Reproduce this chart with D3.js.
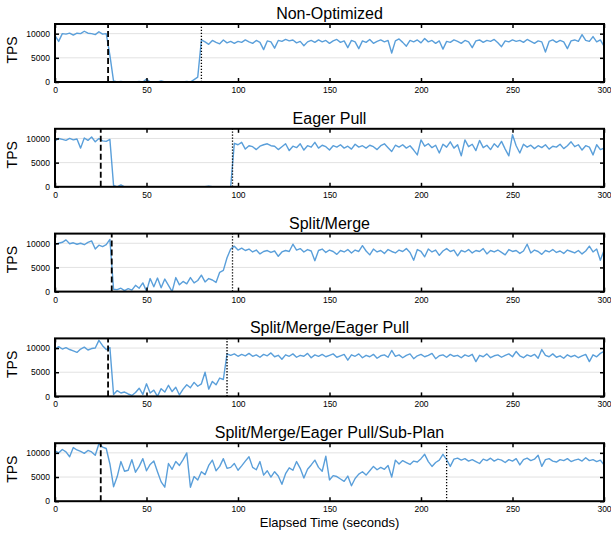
<!DOCTYPE html>
<html>
<head>
<meta charset="utf-8">
<script src="https://cdn.jsdelivr.net/npm/d3@7"></script>
<style>
  body { margin: 0; background: #fff; }
  svg { font-family: "Liberation Sans", Arial, sans-serif; }
</style>
</head>
<body>
<div id="chart"></div>
<script>
// One sample every two seconds, 0..300 s
const seconds = d3.range(0, 301, 2);

const titles = ['Non-Optimized', 'Eager Pull', 'Split/Merge', 'Split/Merge/Eager Pull',
  'Split/Merge/Eager Pull/Sub-Plan'];

const nonOptimized = [
  9600, 8400, 10000, 9900, 10100, 9700, 10100, 10000, 10500, 10100,
  10000, 9800, 10400, 9900, 10000, 5500, 200, 0, 100, 0,
  50, 0, 0, 100, 0, 600, 0, 0, 0, 200,
  0, 0, 0, 50, 0, 0, 100, 0, 500, 1000,
  8700, 8300, 7800, 8600, 8200, 7900, 8700, 8100, 8400, 8000,
  8400, 8200, 8700, 8300, 8000, 8600, 8200, 6700, 8500, 8300,
  7000, 8600, 8400, 8800, 8500, 8700, 8100, 8400, 7500, 8300,
  8600, 8200, 8700, 8300, 8600, 8000, 8500, 8800, 8200, 8500,
  7100, 8600, 8300, 6900, 8500, 8200, 8800, 8000, 8400, 8700,
  8300, 8600, 6000, 8500, 8900, 8200, 7400, 8600, 8300, 8700,
  8100, 9000, 8300, 8600, 8000, 8500, 6800, 8400, 8200, 8700,
  8400, 8000, 8600, 8300, 7100, 8500, 8700, 8200, 8600, 8400,
  8800, 8100, 7300, 8500, 8300, 8700, 8400, 8600, 8200, 8800,
  8400, 8000, 8500, 8300, 6200, 8400, 8700, 8200, 8600, 8300,
  6900, 8500, 8700, 8400, 9800, 8600, 8400, 9400, 8300, 8700,
  7400
];

const eagerPull = [
  9500, 10000, 9800, 9600, 10000, 9700, 9900, 8000, 10100, 9600,
  10300, 9300, 10000, 9500, 9400, 9800, 300, 0, 400, 0,
  0, 0, 0, 0, 0, 0, 0, 0, 0, 0,
  0, 0, 0, 0, 0, 0, 0, 0, 0, 0,
  0, 0, 150, 0, 0, 0, 0, 0, 0, 9000,
  8700, 9200, 7800, 8500, 8300, 7700, 8400, 8700, 8900, 8500,
  8400, 7700, 8300, 8900, 7500, 8400, 8100, 8900, 7600, 8500,
  8200, 9200, 8000, 8600, 8300, 7600, 8500, 8200, 8700, 8000,
  8400, 7800, 8800, 8200, 8500, 8000, 8600, 8300, 7700, 8500,
  8900, 8100, 7300, 8600, 8200, 8700, 8000, 8500, 7600, 6600,
  9700, 8400, 8900, 8100, 8600, 7000, 8800, 8200, 9300, 8000,
  8700, 6400, 9700, 8300, 8800, 7500, 9600, 8100, 8600, 7700,
  8900, 8200, 9400, 7800, 6400, 10800, 8500, 7000, 8800, 8200,
  8600, 7900, 8500, 8100, 8700, 7800, 8400, 8200, 8800, 7900,
  8500, 9300, 8300, 8700, 7600, 8500, 8200, 6600, 8700, 7700,
  8000
];

const splitMerge = [
  9700, 10000, 10200, 10700, 9900, 10100, 9800, 10000, 9700, 10200,
  10500, 8800, 9600, 9300, 9700, 10800, 500, 400, 700, 200,
  600, 300, 1300, 700, 1800, 100, 2700, 1000, 2800, 800,
  2600, 1300, 0, 2900, 1400, 2100, 1600, 2900, 1800, 2300,
  3400, 2000, 2700, 2400, 1900, 4000, 4400, 7000, 8800, 9400,
  8600, 9000, 8500, 8800, 8200, 8600, 7800, 8300, 8500, 8100,
  8400, 7300, 8200, 8500, 8300, 9800, 8600, 8900, 8200, 8700,
  8400, 6400, 8500, 8800, 8100, 8600, 8300, 7700, 8500, 8200,
  8700, 8000, 8600, 8300, 9500, 8400, 7600, 8800, 8200, 8500,
  7900, 8700, 8300, 8000, 8600, 8300, 8900, 8100, 6500, 8700,
  8300, 7200, 8800, 8200, 8600, 7500, 8400, 8900, 8300, 8600,
  7400, 8500, 8200, 8700, 8000, 8500, 8300, 8900, 7800, 8500,
  8200, 8600, 8100, 7600, 8700, 8300, 8500, 7900, 8400, 9800,
  8000, 8600, 8300, 7700, 8500, 8200, 8700, 8100, 8400, 7900,
  8600, 8300, 8000, 8500, 7800, 8400, 9400, 8200, 8800, 6500,
  8500
];

const splitMergeEager = [
  9700, 10300, 9800, 10100, 9700, 9400, 9100, 9800, 10200, 9600,
  9900, 10000, 11600, 10500, 9700, 10100, 400, 1200, 700, 900,
  500, 200, 800, 1700, 400, 2600, 700, 1300, 0, 1600,
  900, 2300, 1000, 1900, 300, 1500, 2400, 1800, 2900, 2100,
  2600, 5000, 1500, 3100, 2400, 3800, 3500, 8800, 8500, 8800,
  8300, 8700, 8400, 8900, 8300, 8600, 8100, 8700, 8400, 9000,
  8200, 8500, 7700, 8600, 8300, 8800, 8100, 8500, 8300, 8900,
  8000, 8600, 8300, 8700, 8200, 8500, 8800, 8100, 8400, 8700,
  7500, 8600, 8300, 8800, 8000, 8500, 8200, 8700, 7900, 8400,
  8600, 8100, 9500, 8300, 8600, 8000, 8500, 8800, 7800, 8400,
  8700, 8200, 8500, 8900, 7800, 8400, 8600, 8100, 8700, 8300,
  8500, 8000, 8600, 8300, 8700, 7200, 8500, 8200, 8800, 8000,
  8400, 8600, 8100, 8500, 8800, 8200, 9300, 8400, 8000, 8600,
  8300, 8700, 7900, 9700, 8500, 8200, 8800, 8100, 8400, 7900,
  8600, 8200, 8500, 8000, 8400, 8700, 7200, 8600, 8200, 8900,
  9300
];

const subPlan = [
  10400, 10000, 10700, 10200, 9200, 11100, 10600, 10300, 9900, 10500,
  10200, 9500, 11900, 11200, 10900, 7700, 3000, 5100, 8200, 6200,
  6400, 8600, 6000, 7200, 8800, 6300, 7600, 8300, 6100, 4000,
  2900, 7800, 6600, 8200, 7400, 8600, 10000, 2900, 5100, 4400,
  6100, 5500, 7400, 8500, 6300, 7200, 8800, 6800, 7000, 7800,
  6400, 7300, 8300, 9200, 7000, 6500, 8200, 5400, 6300, 5000,
  6100, 5200, 3500, 5700, 6900, 6400, 8200, 6800, 4800, 6600,
  7500, 8500, 7000, 6200, 9300, 4400, 5300, 5100, 4600, 4100,
  5200, 3200, 4700, 5600, 6100, 5400, 6300, 7200, 6500, 7000,
  6600, 7400, 5000, 8500, 7700, 8400, 8000, 7600, 8300, 8100,
  8800, 9700, 8200, 7200, 8000, 8500, 9700, 8600, 7200, 8700,
  8900, 8500, 8800, 8300, 8600, 8200, 7800, 8700, 8400, 8900,
  8300, 8700, 8500, 8000, 8600, 8300, 8800, 7500, 8600, 8900,
  8400, 8700, 9500, 7200, 8600, 8800, 8300, 8100, 8600, 8400,
  8800, 8200, 8500, 8700, 8300, 9000, 8400, 8600, 8200, 8500,
  7500
];

// dashed = failure injected, dotted = throughput recovered (seconds)
const failTimes = [29, 25, 31, 29, 25];
const recoverTimes = [80, 97, 97, 94, 214];

const xTicks = [0, 50, 100, 150, 200, 250, 300];
const yTicks = [0, 5000, 10000];
const yGrid = [5000, 10000];

const seriesList = [nonOptimized, eagerPull, splitMerge, splitMergeEager, subPlan];

let width = 611;
let height = 533;
let left = 55;
let right = 604;
let firstTop = 24;
let panelGap = 104.8;
let panelHeight = 58;
let lineColor = '#5a9fda';

let svg = d3.select('#chart')
.append('svg')
.attr('width', width)
.attr('height', height);

let x = d3.scaleLinear()
.domain([0, 300])
.range([left, right]);

// Draw one TPS panel: title, grid, series, markers, frame and axes
function drawPanel(i) {
  let top = firstTop + i * panelGap;
  let bottom = top + panelHeight;
  let y = d3.scaleLinear()
  .domain([0, 12000])
  .range([bottom, top]);

  let g = svg.append('g').attr('class', 'panel');

  g.append('text')
  .attr('x', (left + right) / 2)
  .attr('y', top - 5)
  .attr('text-anchor', 'middle')
  .style('font-size', '16px')
  .text(titles[i]);

  g.append('text')
  .attr('transform', 'translate(17,' + ((top + bottom) / 2 - 3) + ') rotate(-90)')
  .attr('text-anchor', 'middle')
  .style('font-size', '14px')
  .text('TPS');

  g.selectAll('line.grid')
  .data(yGrid)
  .join('line')
  .attr('class', 'grid')
  .attr('x1', left)
  .attr('x2', right)
  .attr('y1', d => y(d))
  .attr('y2', d => y(d))
  .attr('stroke', '#e2e2e2')
  .attr('stroke-width', 1);

  g.append('clipPath')
  .attr('id', 'clip' + i)
  .append('rect')
  .attr('x', left)
  .attr('y', top)
  .attr('width', right - left)
  .attr('height', panelHeight);

  let line = d3.line()
  .x((d, k) => x(seconds[k]))
  .y(d => y(d));

  g.append('path')
  .datum(seriesList[i])
  .attr('clip-path', 'url(#clip' + i + ')')
  .attr('fill', 'none')
  .attr('stroke', lineColor)
  .attr('stroke-width', 1.4)
  .attr('stroke-linejoin', 'round')
  .attr('d', line);

  g.append('line')
  .attr('x1', x(failTimes[i]))
  .attr('x2', x(failTimes[i]))
  .attr('y1', bottom)
  .attr('y2', top)
  .attr('stroke', '#000')
  .attr('stroke-width', 1.8)
  .attr('stroke-dasharray', '6,3');

  g.append('line')
  .attr('x1', x(recoverTimes[i]))
  .attr('x2', x(recoverTimes[i]))
  .attr('y1', bottom)
  .attr('y2', top)
  .attr('stroke', '#000')
  .attr('stroke-width', 1.3)
  .attr('stroke-dasharray', '1.3,1.7');

  // axes: inward ticks on all four sides, labels only bottom and left
  let axes = [
    [d3.axisBottom(x).tickValues(xTicks), 'translate(0,' + bottom + ')', true],
    [d3.axisTop(x).tickValues(xTicks), 'translate(0,' + top + ')', false],
    [d3.axisLeft(y).tickValues(yTicks), 'translate(' + left + ',0)', true],
    [d3.axisRight(y).tickValues(yTicks), 'translate(' + right + ',0)', false]
  ];
  axes.forEach(function(a) {
    let axis = a[0].tickSizeInner(-4).tickSizeOuter(0).tickPadding(5)
    .tickFormat(a[2] ? d3.format('d') : '');
    let ag = g.append('g')
    .attr('transform', a[1])
    .call(axis);
    ag.select('.domain').remove();
    ag.selectAll('.tick line').attr('stroke-width', 1.5);
    ag.selectAll('.tick text')
    .style('font-size', '8.5px')
    .style('font-family', '"Liberation Sans", Arial, sans-serif')
    .attr('fill', '#000');
  });

  g.append('rect')
  .attr('x', left)
  .attr('y', top)
  .attr('width', right - left)
  .attr('height', panelHeight)
  .attr('fill', 'none')
  .attr('stroke', '#000')
  .attr('stroke-width', 2);
}

for (let i = 0; i < seriesList.length; i++) {
  drawPanel(i);
}

svg.append('text')
.attr('x', (left + right) / 2)
.attr('y', 527)
.attr('text-anchor', 'middle')
.style('font-size', '13px')
.text('Elapsed Time (seconds)');
</script>
</body>
</html>
